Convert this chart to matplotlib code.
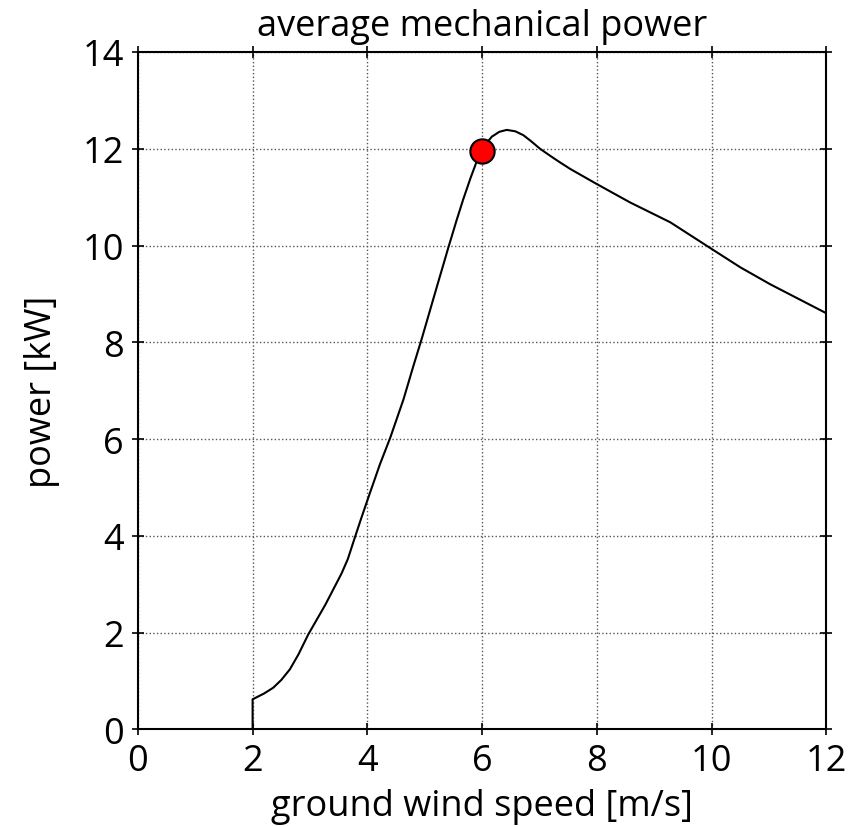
import numpy as np
import matplotlib.pyplot as plt

plt.rcParams['font.family'] = ['Open Sans', 'DejaVu Sans']

# curve
wind = [2.0, 2.0, 2.1, 2.2, 2.36, 2.5, 2.65, 2.8, 2.97, 3.12, 3.27, 3.41, 3.55, 3.66,
        3.77, 3.89, 4.02, 4.22, 4.4, 4.63, 4.8, 4.95, 5.2, 5.41, 5.55, 5.67, 5.8, 5.91,
        6.0, 6.08, 6.17, 6.3, 6.43, 6.58, 6.72, 6.86, 7.01, 7.18, 7.33, 7.54, 8.0, 8.58,
        9.28, 10.0, 10.5, 11.02, 12.0]
power = [0.0, 0.62, 0.68, 0.74, 0.86, 1.02, 1.24, 1.55, 1.96, 2.27, 2.58, 2.9, 3.22, 3.52,
         3.92, 4.35, 4.8, 5.48, 6.03, 6.82, 7.5, 8.08, 9.1, 9.95, 10.5, 10.95, 11.4, 11.75,
         11.96, 12.12, 12.25, 12.35, 12.39, 12.36, 12.28, 12.15, 12.0, 11.86, 11.74, 11.58, 11.27, 10.89,
         10.48, 9.93, 9.55, 9.2, 8.6]

opt_wind = [6.0]
opt_power = [11.96]

x_ticks = [0, 2, 4, 6, 8, 10, 12]
y_ticks = [0, 2, 4, 6, 8, 10, 12, 14]


def main():
    fig = plt.figure(figsize=(8.51, 8.28), dpi=100)
    ax = fig.add_axes([0.162, 0.118, 0.809, 0.818])

    ax.plot(wind, power, color='black', lw=1.5)
    ax.plot(opt_wind, opt_power, 'o', color='red', markeredgecolor='black',
            markeredgewidth=1.5, markersize=17.5, zorder=5)

    ax.set_xlim(0, 12)
    ax.set_ylim(0, 14)
    ax.set_xticks(x_ticks)
    ax.set_yticks(y_ticks)
    ax.grid(True, linestyle=':', color='#555555', lw=1)

    ax.tick_params(direction='inout', length=8, width=1.2, labelsize=26,
                   top=True, right=True, pad=6)
    for s in ax.spines.values():
        s.set_linewidth(1.5)

    ax.set_title('average mechanical power', fontsize=26, pad=12)
    ax.set_xlabel('ground wind speed [m/s]', fontsize=26, labelpad=6)
    ax.set_ylabel('power [kW]', fontsize=26, labelpad=16)

    fig.savefig('out.png', dpi=100)


if __name__ == "__main__":
    main()
